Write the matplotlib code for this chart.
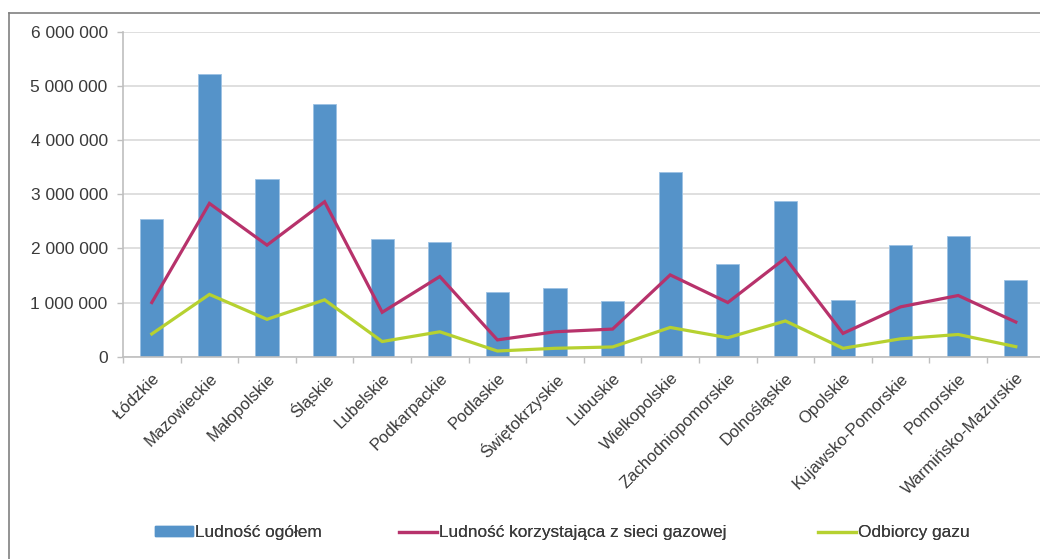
import matplotlib
matplotlib.use("Agg")

import matplotlib.pyplot as plt
import numpy as np
from matplotlib.lines import Line2D
from matplotlib.patches import Patch
from matplotlib.ticker import FuncFormatter, FixedLocator

plt.rcParams["font.family"] = ["Liberation Sans", "DejaVu Sans"]

VOIVODESHIPS = [
    "Łódzkie", "Mazowieckie", "Małopolskie", "Śląskie", "Lubelskie",
    "Podkarpackie", "Podlaskie", "Świętokrzyskie", "Lubuskie", "Wielkopolskie",
    "Zachodniopomorskie", "Dolnośląskie", "Opolskie", "Kujawsko-Pomorskie",
    "Pomorskie", "Warmińsko-Mazurskie",
]

POPULATION = [
    2540000, 5220000, 3280000, 4660000, 2170000, 2110000, 1190000, 1270000,
    1020000, 3410000, 1710000, 2870000, 1040000, 2060000, 2220000, 1420000,
]

GAS_NETWORK_USERS = [
    1000000, 2830000, 2060000, 2860000, 820000, 1480000, 310000, 460000,
    510000, 1510000, 1000000, 1820000, 430000, 920000, 1130000, 640000,
]

GAS_CUSTOMERS = [
    420000, 1150000, 690000, 1050000, 280000, 460000, 105000, 155000,
    180000, 540000, 350000, 660000, 155000, 330000, 410000, 185000,
]

LEGEND_LABELS = [
    "Ludność ogółem",
    "Ludność korzystająca z sieci gazowej",
    "Odbiorcy gazu",
]

BAR_COLOR = "#5593c9"
RED = "#b7326b"
GREEN = "#b6d130"
TEXT = "#3a3a3a"
GRID = "#d9d9d9"

fig = plt.figure(figsize=(10.4, 5.59), dpi=100)
W, H = 1040, 559

# plot area in pixel terms, converted to figure fractions
left, right, top, bottom = 123, 1044.6, 31.7, 356.7
ax = fig.add_axes([left / W, 1 - bottom / H, (right - left) / W, (bottom - top) / H])

x = np.arange(len(VOIVODESHIPS))
ax.bar(x, POPULATION, width=0.4, color=BAR_COLOR, edgecolor="#9cc2e3",
       linewidth=0.6, zorder=2)
ax.plot(x, GAS_NETWORK_USERS, color=RED, linewidth=2.3, zorder=3,
        solid_joinstyle="miter")
ax.plot(x, GAS_CUSTOMERS, color=GREEN, linewidth=2.3, zorder=3,
        solid_joinstyle="miter")

ax.set_xlim(-0.5, len(VOIVODESHIPS) - 0.5)
ax.set_ylim(0, 6000000)
ax.set_yticks(np.arange(0, 6000001, 1000000))
ax.yaxis.set_major_formatter(FuncFormatter(lambda v, _: f"{int(v):,}".replace(",", " ")))
ax.yaxis.grid(True, color=GRID, linewidth=1.2, zorder=0)
ax.set_axisbelow(True)

ax.set_xticks(x)
ax.set_xticklabels(VOIVODESHIPS, rotation=45, ha="right", va="top",
                   rotation_mode="anchor", fontsize=12, color=TEXT)
ax.xaxis.set_minor_locator(FixedLocator(np.arange(-0.5, len(VOIVODESHIPS), 1.0)))
ax.tick_params(axis="x", which="major", length=0, pad=10)
ax.tick_params(axis="x", which="minor", length=4, color="#bfbfbf", width=1)
ax.tick_params(axis="y", length=4, color="#bfbfbf", width=1, pad=7,
               labelsize=12.5, labelcolor=TEXT)

for side in ("top", "right"):
    ax.spines[side].set_visible(False)
for side in ("left", "bottom"):
    ax.spines[side].set_color("#bfbfbf")
    ax.spines[side].set_linewidth(1.2)

# outer chart frame
fig.add_artist(Line2D([9 / W, 1.0], [1 - 13 / H, 1 - 13 / H],
                      color="#808080", linewidth=1.2, transform=fig.transFigure))
fig.add_artist(Line2D([9 / W, 9 / W], [1 - 13 / H, 0.0],
                      color="#808080", linewidth=1.2, transform=fig.transFigure))

# one legend per entry so each can sit at its own spot
handles = [
    Patch(facecolor=BAR_COLOR, edgecolor=BAR_COLOR),
    Line2D([], [], color=RED, linewidth=2.3),
    Line2D([], [], color=GREEN, linewidth=2.3),
]
legend_x = [155, 399, 818]
for handle, label, lx in zip(handles, LEGEND_LABELS, legend_x):
    leg = fig.legend([handle], [label], loc="center left",
                     bbox_to_anchor=(lx / W, 1 - 533 / H), frameon=False,
                     fontsize=12.4, labelcolor=TEXT, handlelength=2.2,
                     handleheight=0.5, handletextpad=0.15, borderpad=0,
                     borderaxespad=0)
    fig.add_artist(leg)

fig.savefig("out.png", dpi=100)
